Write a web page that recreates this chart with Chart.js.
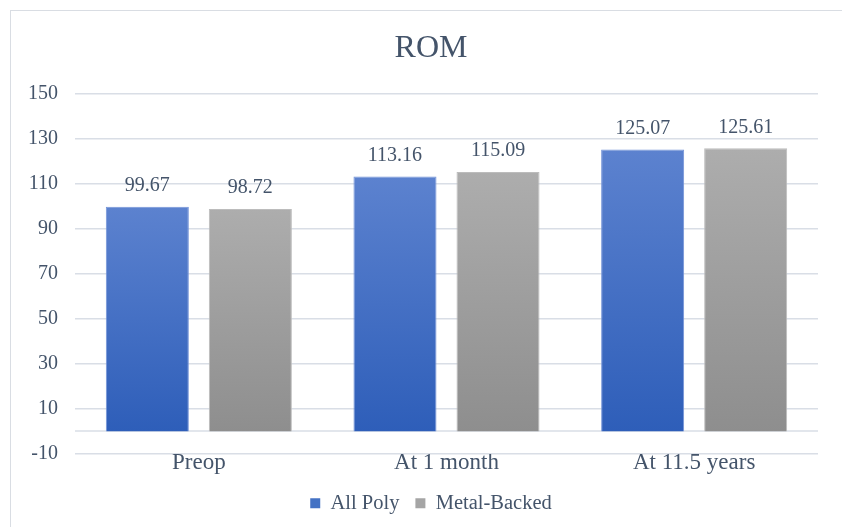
<!DOCTYPE html>
<html>
<head>
<meta charset="utf-8">
<script src="https://cdn.jsdelivr.net/npm/chart.js@4/dist/chart.umd.min.js"></script>
<style>
  html, body { margin: 0; padding: 0; background: #ffffff; }
  #wrap { position: relative; width: 842px; height: 527px; overflow: hidden; }
  #frame { position: absolute; left: 10px; top: 10px; width: 900px; height: 600px;
           border: 1px solid #d9dde3; box-sizing: border-box; }
  #c { position: absolute; left: 0; top: 0; }
</style>
</head>
<body>
<div id="wrap">
  <div id="frame"></div>
  <canvas id="c" width="842" height="527"></canvas>
</div>
<script>
// Range of motion (degrees) by follow-up time
const categories = ['Preop', 'At 1 month', 'At 11.5 years'];
const allPoly = [99.67, 113.16, 125.07];
const metalBacked = [98.72, 115.09, 125.61];
const seriesNames = ['All Poly', 'Metal-Backed'];
const yTicks = { min: -10, max: 150, step: 20 };

const TEXT = '#44546a';
const GRID = '#d9dee6';
const SERIF = "'Liberation Serif', 'Times New Roman', serif";

// Vertical gradient from the bar top down to the zero baseline
function barFill(top, bottom) {
  return (ctx) => {
    const chart = ctx.chart;
    if (!chart.chartArea || ctx.raw === undefined) return bottom;
    const ys = chart.scales.y;
    const yTop = ys.getPixelForValue(ctx.raw);
    const yBase = ys.getPixelForValue(0);
    const g = chart.ctx.createLinearGradient(0, yTop, 0, yBase);
    g.addColorStop(0, top);
    g.addColorStop(1, bottom);
    return g;
  };
}

// Baseline at zero, drawn in the gridline colour
const zeroLine = {
  id: 'zeroLine',
  beforeDatasetsDraw(chart) {
    const { ctx, chartArea, scales } = chart;
    const y = Math.round(scales.y.getPixelForValue(0));
    ctx.save();
    ctx.strokeStyle = GRID;
    ctx.lineWidth = 1.5;
    ctx.beginPath();
    ctx.moveTo(chartArea.left, y);
    ctx.lineTo(chartArea.right, y);
    ctx.stroke();
    ctx.restore();
  }
};

// Value labels above each bar
const valueLabels = {
  id: 'valueLabels',
  afterDatasetsDraw(chart) {
    const { ctx } = chart;
    ctx.save();
    ctx.font = '20px ' + SERIF;
    ctx.fillStyle = TEXT;
    ctx.textAlign = 'center';
    ctx.textBaseline = 'middle';
    chart.data.datasets.forEach((ds, di) => {
      const meta = chart.getDatasetMeta(di);
      meta.data.forEach((bar, i) => {
        ctx.fillText(ds.data[i].toFixed(2), bar.x, bar.y - 21);
      });
    });
    ctx.restore();
  }
};

new Chart(document.getElementById('c'), {
  type: 'bar',
  data: {
    labels: categories,
    datasets: [
      {
        label: seriesNames[0],
        data: allPoly,
        backgroundColor: barFill('#5c82cf', '#2e5eb9'),
        borderColor: '#7393d8',
        borderWidth: 1,
        legendColor: '#4472c4'
      },
      {
        label: seriesNames[1],
        data: metalBacked,
        backgroundColor: barFill('#adadad', '#8e8e8e'),
        borderColor: '#bcbcbc',
        borderWidth: 1,
        legendColor: '#a5a5a5'
      }
    ]
  },
  options: {
    responsive: false,
    animation: false,
    devicePixelRatio: 1,
    layout: { padding: { left: 20, right: 0, top: 0, bottom: 3.5 } },
    datasets: { bar: { categoryPercentage: 0.832, barPercentage: 0.806 } },
    plugins: {
      title: {
        display: true,
        text: 'ROM',
        color: TEXT,
        font: { family: SERIF, size: 32, weight: 'normal' },
        padding: { top: 29.5, bottom: 25.5 }
      },
      legend: {
        position: 'bottom',
        labels: {
          color: TEXT,
          font: { family: SERIF, size: 20.5 },
          boxWidth: 10,
          boxHeight: 10,
          padding: 16,
          generateLabels(chart) {
            return chart.data.datasets.map((ds, i) => ({
              text: ds.label,
              fillStyle: ds.legendColor,
              strokeStyle: ds.legendColor,
              lineWidth: 0,
              datasetIndex: i,
              fontColor: TEXT
            }));
          }
        }
      },
      tooltip: { enabled: false }
    },
    scales: {
      x: {
        grid: { display: false, drawTicks: false },
        border: { display: false },
        ticks: { color: TEXT, font: { family: SERIF, size: 23 }, padding: -5 },
        afterFit(s) { s.height = 23; }
      },
      y: {
        min: yTicks.min,
        max: yTicks.max,
        grid: { color: GRID, lineWidth: 1.5, drawTicks: false },
        border: { display: false },
        ticks: {
          stepSize: yTicks.step,
          color: TEXT,
          font: { family: SERIF, size: 20 },
          padding: 17
        },
        afterFit(s) { s.width = 55; }
      },
      // empty right-hand margin box
      yRight: {
        position: 'right',
        grid: { display: false, drawTicks: false },
        border: { display: false },
        ticks: { display: false },
        afterFit(s) { s.width = 24; }
      }
    }
  },
  plugins: [zeroLine, valueLabels]
});
</script>
</body>
</html>
